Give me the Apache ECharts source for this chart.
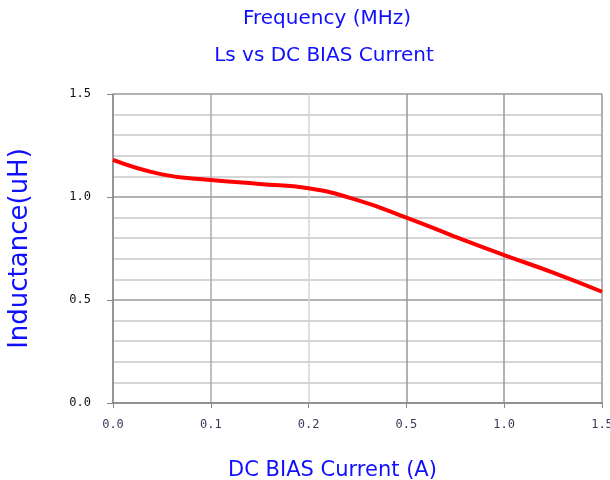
<!DOCTYPE html>
<html>
<head>
<meta charset="utf-8">
<script src="https://cdn.jsdelivr.net/npm/echarts@6/dist/echarts.min.js"></script>
<style>
  html, body { margin: 0; padding: 0; background: #fff; }
  #chart { width: 610px; height: 480px; }
</style>
</head>
<body>
<div id="chart"></div>
<script>
// x tick labels (evenly spaced, not to scale)
const xLabels = ['0.0', '0.1', '0.2', '0.5', '1.0', '1.5'];
// curve samples, x in label-index units
const curveX = [0, 0.5, 1, 1.5, 2, 2.5, 3, 3.5, 4, 4.5, 5];
const curveY = [1.18, 1.11, 1.083, 1.063, 1.042, 0.985, 0.90, 0.807, 0.718, 0.633, 0.54];

const chart = echarts.init(document.getElementById('chart'));
const blue = '#1010ff';
const font = 'DejaVu Sans';

chart.setOption({
  animation: false,
  graphic: [
    {
      type: 'text', x: 327, y: 9,
      style: {text: 'Frequency (MHz)', fill: blue, font: '20px "DejaVu Sans"', align: 'center', verticalAlign: 'top'}
    },
    {
      type: 'text', x: 324, y: 46,
      style: {text: 'Ls vs DC BIAS Current', fill: blue, font: '20px "DejaVu Sans"', align: 'center', verticalAlign: 'top'}
    }
  ],
  grid: {left: 113, right: 8, top: 94, bottom: 77, outerBoundsMode: 'none', containLabel: false},
  xAxis: {
    type: 'value',
    min: 0, max: 5, interval: 1,
    name: 'DC BIAS Current (A)',
    nameLocation: 'middle',
    nameGap: 57,
    nameTextStyle: {color: blue, fontSize: 21, fontFamily: font, padding: [0, 50, 0, 0]},
    axisLine: {lineStyle: {color: '#888', width: 1.5}},
    axisTick: {show: true, length: 5, lineStyle: {color: '#888'}},
    axisLabel: {
      color: '#3a3a5a', fontSize: 12, fontFamily: 'DejaVu Sans Mono', margin: 16,
      formatter: v => xLabels[Math.round(v)]
    },
    splitLine: {
      show: true,
      lineStyle: {color: ['#aaa', '#aaa', '#d4d4d4', '#999', '#999', '#999'], width: 1.5}
    }
  },
  yAxis: {
    type: 'value',
    min: 0, max: 1.5, interval: 0.5,
    name: 'Inductance(uH)',
    nameLocation: 'middle',
    nameGap: 80,
    nameRotate: 90,
    nameTextStyle: {color: blue, fontSize: 26, fontFamily: font},
    axisLine: {show: true, lineStyle: {color: '#888', width: 1.5}},
    axisTick: {show: true, length: 6, lineStyle: {color: '#888'}},
    axisLabel: {
      color: '#111', fontSize: 12, fontFamily: 'DejaVu Sans Mono', margin: 22,
      formatter: v => v.toFixed(1)
    },
    splitLine: {show: true, lineStyle: {color: '#999', width: 1.5}},
    minorTick: {show: false, splitNumber: 5},
    minorSplitLine: {show: true, lineStyle: {color: '#c8c8c8', width: 1.5}}
  },
  series: [{
    type: 'line',
    smooth: true,
    showSymbol: false,
    lineStyle: {color: '#ff0000', width: 4},
    data: curveX.map((x, i) => [x, curveY[i]])
  }]
});
</script>
</body>
</html>
